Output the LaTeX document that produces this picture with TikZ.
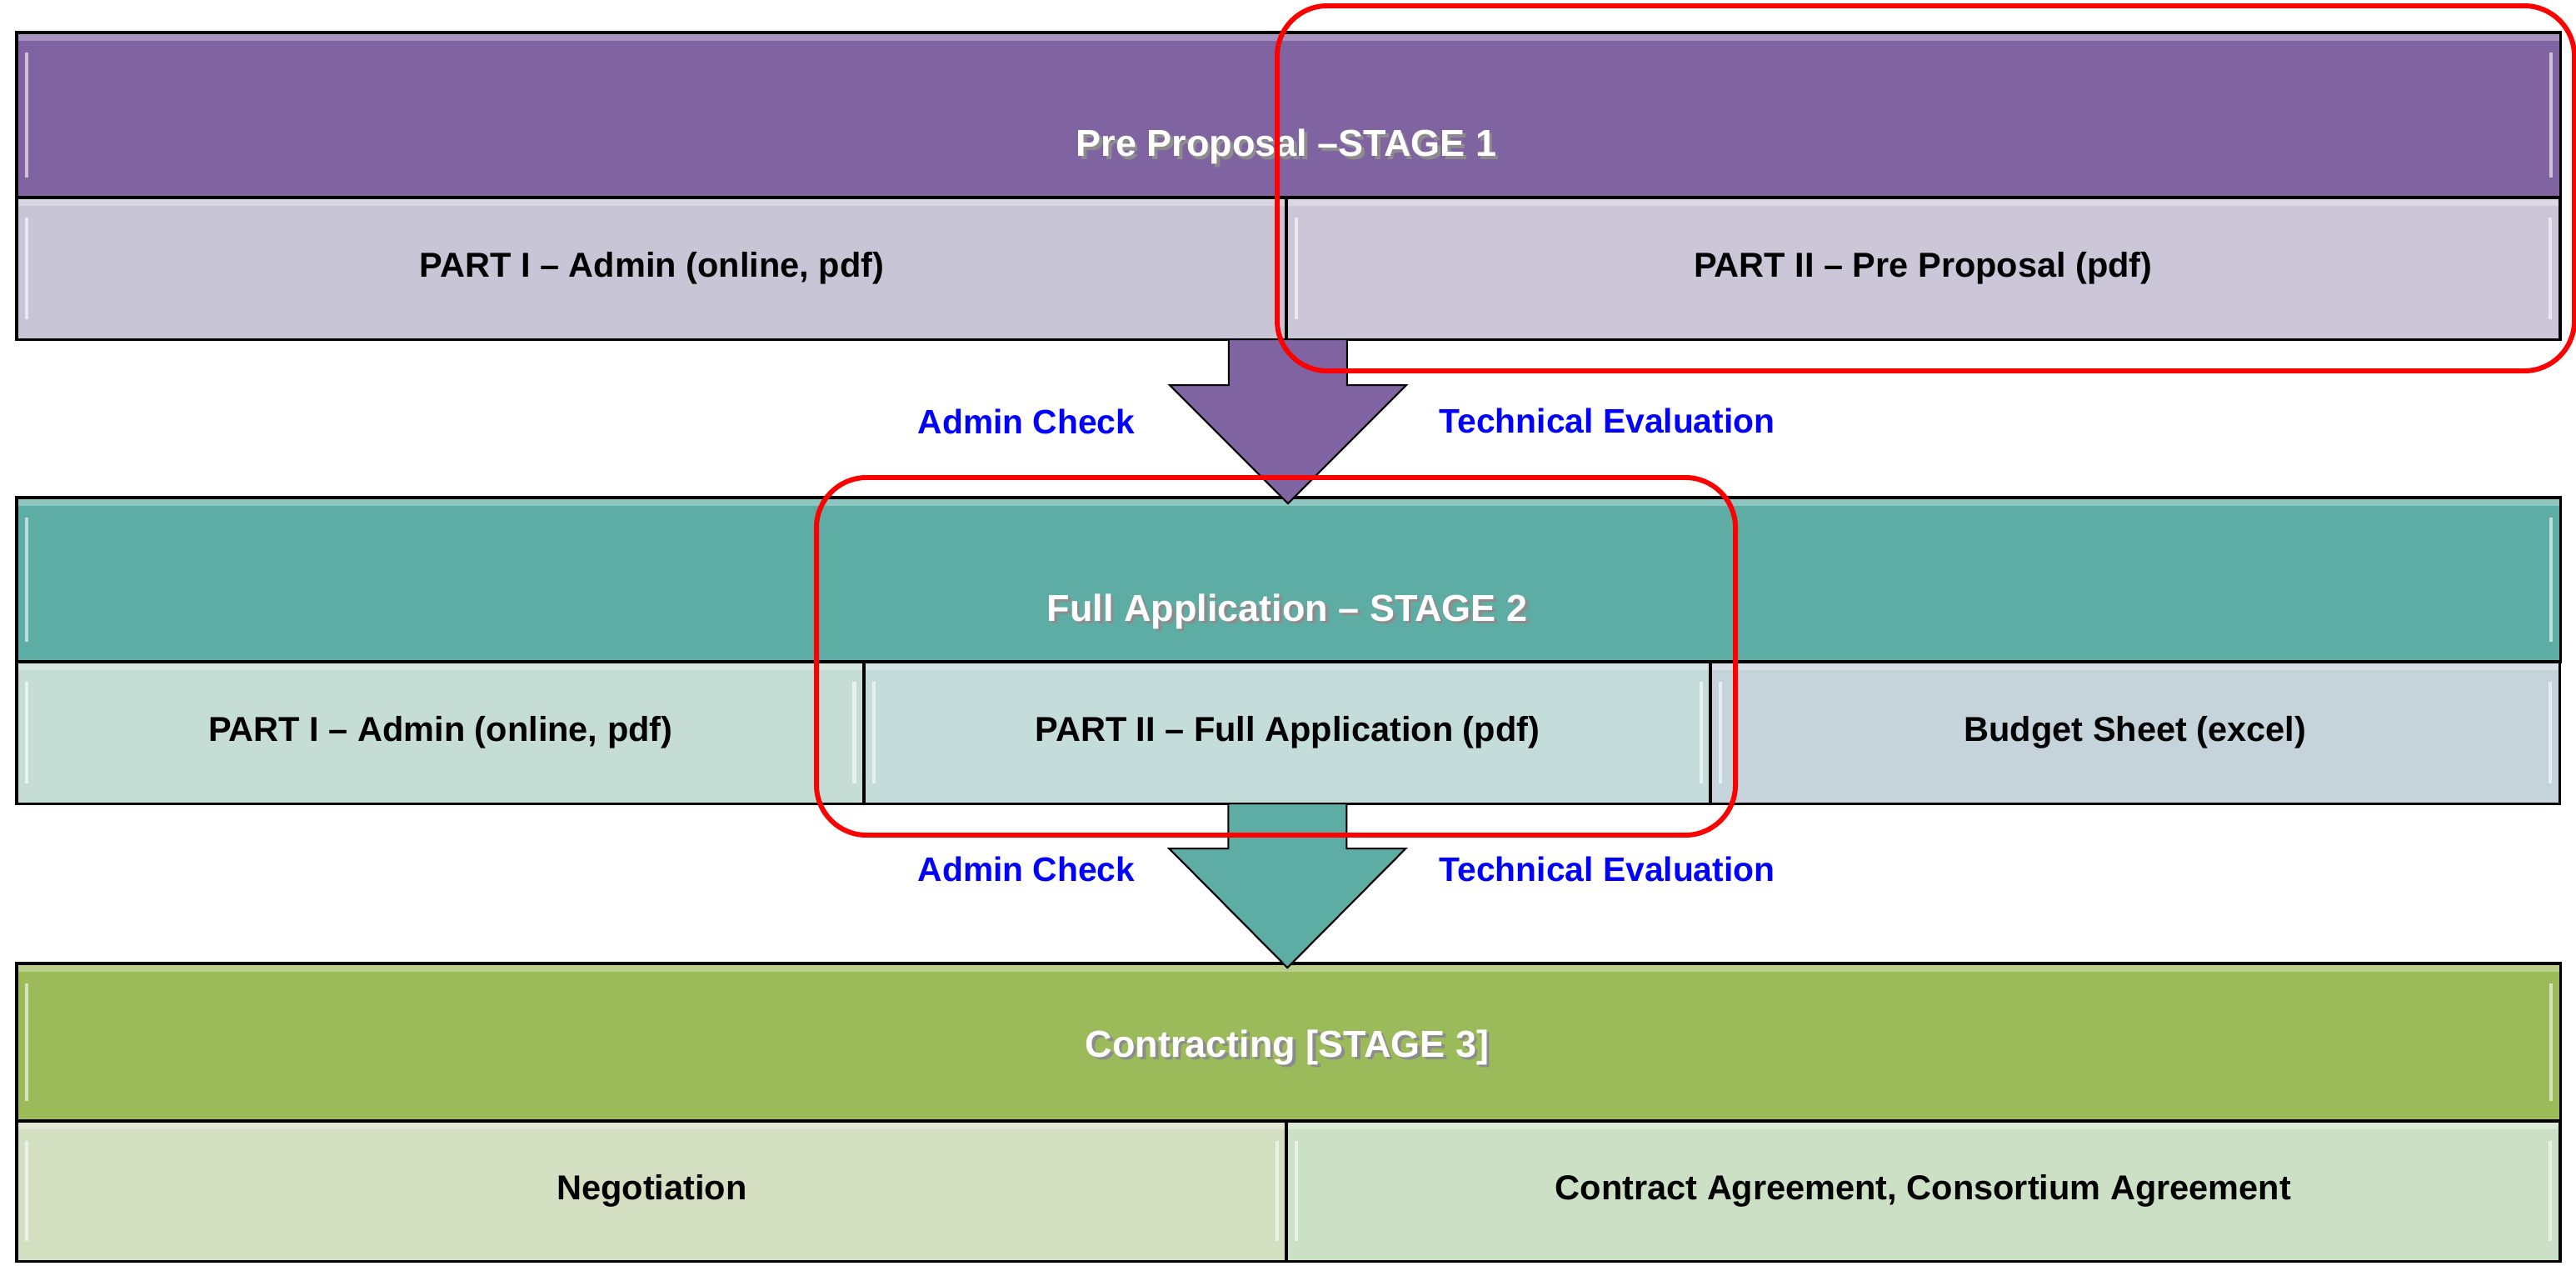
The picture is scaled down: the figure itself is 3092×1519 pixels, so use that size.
\documentclass[tikz,border=0pt]{standalone}
\usepackage{fontspec}
\setmainfont{Liberation Sans}
\usepackage{tikz}
\usetikzlibrary{calc}

\definecolor{plum}{HTML}{8064A2}
\definecolor{plumA}{HTML}{C8C5D7}
\definecolor{plumB}{HTML}{CCC6D9}
\definecolor{seagreen}{HTML}{5DADA5}
\definecolor{seaA}{HTML}{C5DDD4}
\definecolor{seaB}{HTML}{C4DCDA}
\definecolor{seaC}{HTML}{C5D4DA}
\definecolor{olive}{HTML}{9BBA59}
\definecolor{oliveA}{HTML}{D4DFC2}
\definecolor{oliveB}{HTML}{CCE0C6}

\newcommand{\shadetitle}[1]{\rlap{\kern1pt\raisebox{-1pt}{\textcolor{black!45}{#1}}}#1}

\begin{document}
\begin{tikzpicture}[x=0.01cm, y=-0.01cm,
  every node/.style={inner sep=0pt, outer sep=0pt},
  bevel/.style={path picture={
    \fill[white, opacity=0.3] (path picture bounding box.north west) rectangle ($(path picture bounding box.north east)+(0,10)$);
    \draw[white, opacity=0.6, line width=1.2pt] ($(path picture bounding box.north west)+(12,24)$) -- ($(path picture bounding box.south west)+(12,-24)$);
    \draw[white, opacity=0.6, line width=1.2pt] ($(path picture bounding box.north east)+(-12,24)$) -- ($(path picture bounding box.south east)+(-12,-24)$);}},
  cell/.style={draw=black, line width=0.9pt, anchor=north west, bevel, font=\fontsize{11.8}{14}\selectfont\bfseries},
  title/.style={anchor=base, text=white, font=\fontsize{12.8}{15}\selectfont\bfseries},
  tag/.style={anchor=base, text=blue, font=\fontsize{11.6}{14}\selectfont\bfseries},
  ring/.style={draw=red, line width=1.7pt, rounded corners=0.6cm},
  bigarrow/.style={draw=black, line width=0.6pt, line join=miter}]
\useasboundingbox (0,0) rectangle (3092,1519);

% stage 1
\node[cell, fill=plum, minimum width=30.52cm, minimum height=1.98cm] (s1) at (20,39) {};
\node[cell, fill=plumA, minimum width=15.24cm, minimum height=1.70cm] (s1a) at (20,237) {PART I – Admin (online, pdf)};
\node[cell, fill=plumB, minimum width=15.28cm, minimum height=1.70cm] (s1b) at (1544,237) {PART II – Pre Proposal (pdf)};
\node[title] (t1) at (1544,188) {\shadetitle{Pre Proposal –STAGE 1}};

% stage 2
\node[cell, fill=seagreen, minimum width=30.52cm, minimum height=1.97cm] (s2) at (20,597) {};
\node[cell, fill=seaA, minimum width=10.17cm, minimum height=1.70cm] (s2a) at (20,794) {PART I – Admin (online, pdf)};
\node[cell, fill=seaB, minimum width=10.16cm, minimum height=1.70cm] (s2b) at (1037,794) {PART II – Full Application (pdf)};
\node[cell, fill=seaC, minimum width=10.19cm, minimum height=1.70cm] (s2c) at (2053,794) {Budget Sheet (excel)};
\node[title] (t2) at (1545,745) {\shadetitle{Full Application – STAGE 2}};

% stage 3
\node[cell, fill=olive, minimum width=30.52cm, minimum height=1.89cm] (s3) at (20,1156) {};
\node[cell, fill=oliveA, minimum width=15.24cm, minimum height=1.68cm] (s3a) at (20,1345) {Negotiation};
\node[cell, fill=oliveB, minimum width=15.28cm, minimum height=1.68cm] (s3b) at (1544,1345) {Contract Agreement, Consortium Agreement};
\node[title] (t3) at (1545,1268) {\shadetitle{Contracting [STAGE 3]}};

% arrows between stages
\draw[bigarrow, fill=plum] (s1a.south east) ++(-70,0) -- ++(0,55) -- ++(-71,0) -- ++(142,142) -- ++(142,-142) -- ++(-71,0) -- ++(0,-55) -- cycle;
\draw[bigarrow, fill=seagreen] (s2b.south) ++(-71,0) -- ++(0,54) -- ++(-71,0) -- ++(142,143) -- ++(142,-143) -- ++(-71,0) -- ++(0,-54) -- cycle;

\node[tag] (c1) at (1232,521) {Admin Check};
\node[tag] (e1) at (1929,520) {Technical Evaluation};
\node[tag] (c2) at (1232,1057) {Admin Check};
\node[tag] (e2) at (1929,1057) {Technical Evaluation};

% highlights
\draw[ring] (1533,7) rectangle (3090,445);
\draw[ring] (980,573) rectangle (2083,1002);
\end{tikzpicture}
\end{document}
